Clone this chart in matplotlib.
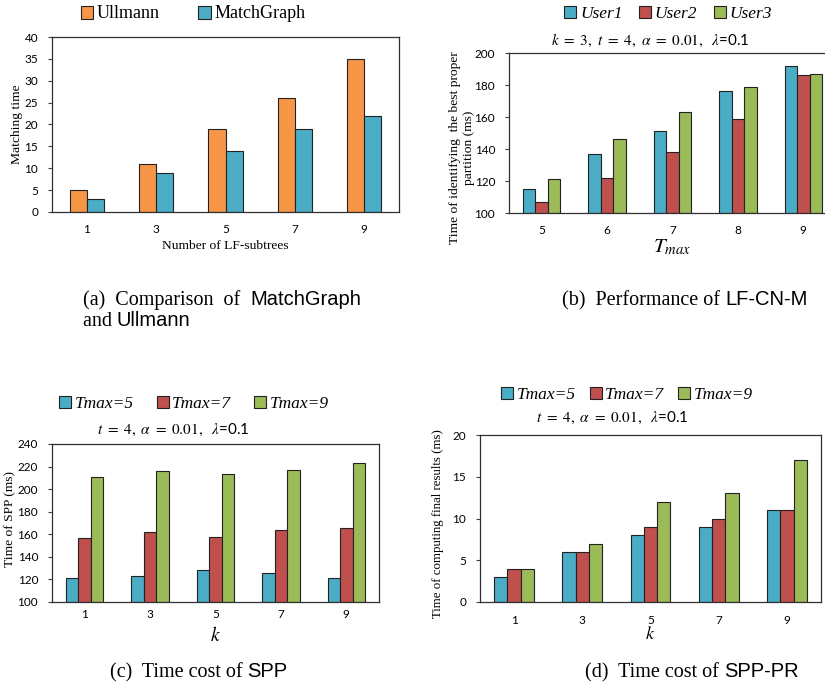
import numpy as np
import matplotlib
matplotlib.use('Agg')
import matplotlib.pyplot as plt
from matplotlib.offsetbox import TextArea, HPacker, AnnotationBbox

plt.rcParams['mathtext.fontset'] = 'stix'

SERIF = 'Liberation Serif'
TICK = 'Lato'
SANS = 'Liberation Sans'

ORANGE = '#F79646'
TEAL = '#4BACC6'
RED = '#C0504D'
GREEN = '#9BBB59'

# (a) matching time
a_x = ['1', '3', '5', '7', '9']
a_ullmann = [5, 11, 19, 26, 35]
a_matchgraph = [3, 9, 14, 19, 22]

# (b) LF-CN-M
b_x = ['5', '6', '7', '8', '9']
b_user1 = [115, 137, 151, 176, 192]
b_user2 = [107, 122, 138, 159, 186]
b_user3 = [121, 146, 163, 179, 187]

# (c) SPP
c_x = ['1', '3', '5', '7', '9']
c_t5 = [121, 123, 128, 126, 121]
c_t7 = [157, 162, 158, 164, 166]
c_t9 = [211, 216, 213, 217, 223]

# (d) SPP-PR
d_x = ['1', '3', '5', '7', '9']
d_t5 = [3, 6, 8, 9, 11]
d_t7 = [4, 6, 9, 10, 11]
d_t9 = [4, 7, 12, 13, 17]

W, H = 825, 684
fig = plt.figure(figsize=(W / 100, H / 100), dpi=100)


def make_ax(left, top, right, bottom):
    return fig.add_axes([left / W, 1 - bottom / H, (right - left) / W, (bottom - top) / H])


def style(ax, cats, ylim, yticks, xpad=9):
    ax.set_xlim(-0.5, len(cats) - 0.5)
    ax.set_ylim(*ylim)
    ax.set_xticks(np.arange(len(cats)))
    ax.set_xticklabels(cats)
    ax.set_yticks(yticks)
    ax.tick_params(axis='x', length=0, labelsize=8.5, pad=xpad)
    ax.tick_params(axis='y', length=3, width=0.8, color='#404040', labelsize=8.5, pad=7)
    for lab in ax.get_xticklabels() + ax.get_yticklabels():
        lab.set_family(TICK)
    for sp in ax.spines.values():
        sp.set_color('#303030')
        sp.set_linewidth(0.9)


def bars(ax, series, colors, labels, width, base=0):
    n = len(series)
    x = np.arange(len(series[0]))
    for i, (vals, c, lab) in enumerate(zip(series, colors, labels)):
        off = (i - (n - 1) / 2) * width
        ax.bar(x + off, np.array(vals) - base, width, bottom=base, color=c,
               edgecolor='#222222', linewidth=0.8, label=lab)


def legend(ax, cx, cy, italic=True, size=12.5, spacing=1.2):
    prop = dict(family=SERIF, size=size, style='italic' if italic else 'normal')
    ax.legend(loc='center', bbox_to_anchor=(cx / W, 1 - cy / H),
              bbox_transform=fig.transFigure, ncol=3, frameon=False, prop=prop,
              handlelength=0.7, handleheight=0.7, handletextpad=0.2,
              columnspacing=spacing, borderpad=0)


def caption(x, y, parts, size=14.5):
    boxes = [TextArea(s, textprops=dict(family=f, size=size)) for s, f in parts]
    pack = HPacker(children=boxes, align='baseline', pad=0, sep=0)
    ab = AnnotationBbox(pack, (x / W, 1 - y / H), xycoords='figure fraction',
                        box_alignment=(0, 0.5), frameon=False)
    fig.add_artist(ab)


note = r'$k\ =\ 3,\ t\ =\ 4,\ \alpha\ =\ 0.01,\ \ \lambda$=0.1'
note2 = r'$t\ =\ 4,\ \alpha\ =\ 0.01,\ \ \lambda$=0.1'
LAB = 9.7

# ---- (a)
ax = make_ax(52, 37, 399, 212)
bars(ax, [a_ullmann, a_matchgraph], [ORANGE, TEAL], ['Ullmann', 'MatchGraph'], 0.245)
style(ax, a_x, (0, 40), range(0, 41, 5))
ax.set_xlabel('Number of LF-subtrees', family=SERIF, size=LAB)
ax.xaxis.set_label_coords(0.5, -0.16)
ax.set_ylabel('Matching time', family=SERIF, size=LAB)
ax.yaxis.set_label_coords(-0.085, 0.5)
legend(ax, 193, 14, italic=False, size=13, spacing=2.1)

# ---- (b)
ax = make_ax(509, 53, 836, 213)
bars(ax, [b_user1, b_user2, b_user3], [TEAL, RED, GREEN], ['User1', 'User2', 'User3'], 0.19, base=100)
style(ax, b_x, (100, 200), range(100, 201, 20))
ax.set_xlabel(r'$T_{max}$', size=15)
ax.xaxis.set_label_coords(0.5, -0.15)
ax.set_ylabel('Time of identifying  the best proper\npartition (ms)', family=SERIF, size=LAB)
ax.yaxis.set_label_coords(-0.105, 0.41)
legend(ax, 668, 14, spacing=0.95)
fig.text(650 / W, 1 - 40 / H, note, ha='center', va='center', size=11, family=TICK)

# ---- (c)
ax = make_ax(52, 444, 379, 602)
bars(ax, [c_t5, c_t7, c_t9], [TEAL, RED, GREEN], ['Tmax=5', 'Tmax=7', 'Tmax=9'], 0.19, base=100)
style(ax, c_x, (100, 240), range(100, 241, 20), xpad=5)
ax.set_xlabel(r'$k$', size=14)
ax.xaxis.set_label_coords(0.5, -0.155)
ax.set_ylabel('Time of SPP (ms)', family=SERIF, size=LAB)
ax.yaxis.set_label_coords(-0.11, 0.525)
legend(ax, 194, 404, size=12.5, spacing=1.3)
fig.text(173 / W, 1 - 430 / H, note2, ha='center', va='center', size=11, family=TICK)

# ---- (d)
ax = make_ax(480, 435, 821, 602)
bars(ax, [d_t5, d_t7, d_t9], [TEAL, RED, GREEN], ['Tmax=5', 'Tmax=7', 'Tmax=9'], 0.195)
style(ax, d_x, (0, 20), range(0, 21, 5))
ax.set_xlabel(r'$k$', size=13)
ax.xaxis.set_label_coords(0.5, -0.135)
ax.set_ylabel('Time of computing final results (ms)', family=SERIF, size=9.3)
ax.yaxis.set_label_coords(-0.105, 0.47)
legend(ax, 627, 395, size=12.5, spacing=0.8)
fig.text(612 / W, 1 - 418 / H, note2, ha='center', va='center', size=11, family=TICK)

# ---- captions
caption(83, 300, [('(a)  Comparison  of  ', SERIF), ('MatchGraph', SANS)])
caption(83, 321, [('and ', SERIF), ('Ullmann', SANS)])
caption(562, 300, [('(b)  Performance of ', SERIF), ('LF-CN-M', SANS)])
caption(110, 672, [('(c)  Time cost of ', SERIF), ('SPP', SANS)])
caption(585, 672, [('(d)  Time cost of ', SERIF), ('SPP-PR', SANS)])

fig.savefig('out.png', dpi=100)
